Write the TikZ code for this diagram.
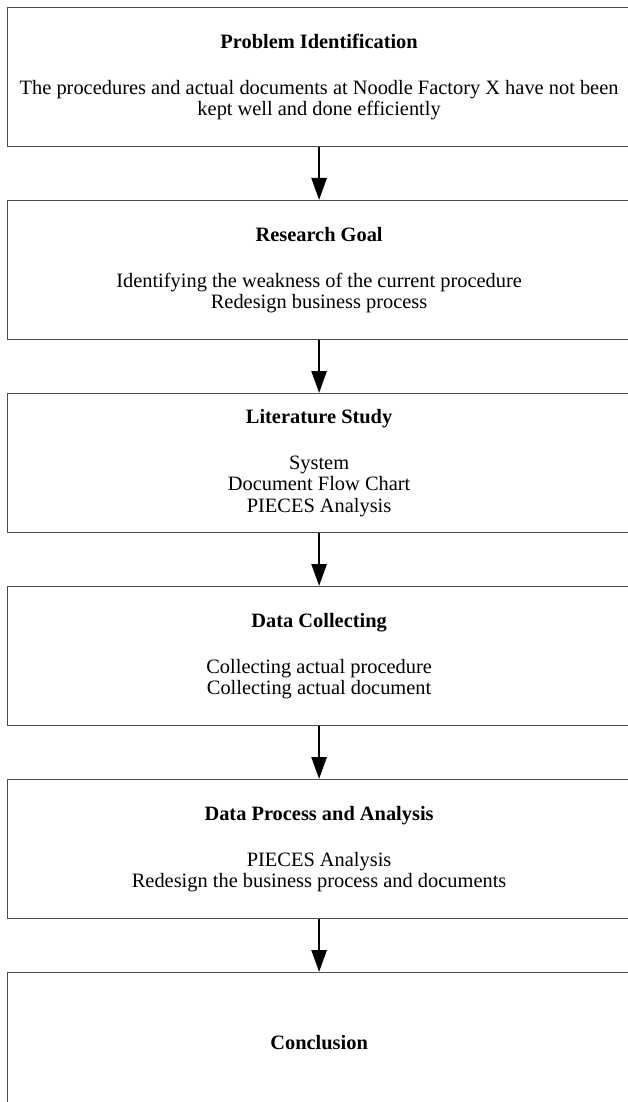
\documentclass[tikz,border=0pt]{standalone}
\usepackage{fontspec}
\setmainfont{Liberation Serif}
\usetikzlibrary{positioning,arrows.meta}

\begin{document}
\begin{tikzpicture}[>={Triangle[length=22pt,width=15pt]},
  stage/.style={draw=black!70,line width=1.2pt,rectangle,minimum width=624pt,minimum height=139pt,
    inner sep=0pt,align=center,font=\fontsize{20.4pt}{21.5pt}\selectfont},
  flow/.style={->,line width=2.6pt},
  node distance=52.8pt]
\useasboundingbox (0,0) rectangle (628pt,-1102pt);
%%% Stages of the research:
\node[stage,anchor=north west] (problem) at (6.5pt,-7pt)
  {\textbf{Problem Identification}\\[24.5pt]The procedures and actual documents at Noodle Factory X have not been\\kept well and done efficiently};
\node[stage,below=of problem] (goal)
  {\textbf{Research Goal}\\[24.5pt]Identifying the weakness of the current procedure\\Redesign business process};
\node[stage,below=of goal] (study)
  {\textbf{Literature Study}\\[24.5pt]System\\Document Flow Chart\\PIECES Analysis};
\node[stage,below=of study] (collect)
  {\textbf{Data Collecting}\\[24.5pt]Collecting actual procedure\\Collecting actual document};
\node[stage,below=of collect] (analysis)
  {\textbf{Data Process and Analysis}\\[24.5pt]PIECES Analysis\\Redesign the business process and documents};
\node[stage,below=of analysis] (conclusion) {\textbf{Conclusion}};
%% arrows between stages
\draw[flow] (problem.south) -- (goal.north);
\draw[flow] (goal.south) -- (study.north);
\draw[flow] (study.south) -- (collect.north);
\draw[flow] (collect.south) -- (analysis.north);
\draw[flow] (analysis.south) -- (conclusion.north);
\end{tikzpicture}
\end{document}
